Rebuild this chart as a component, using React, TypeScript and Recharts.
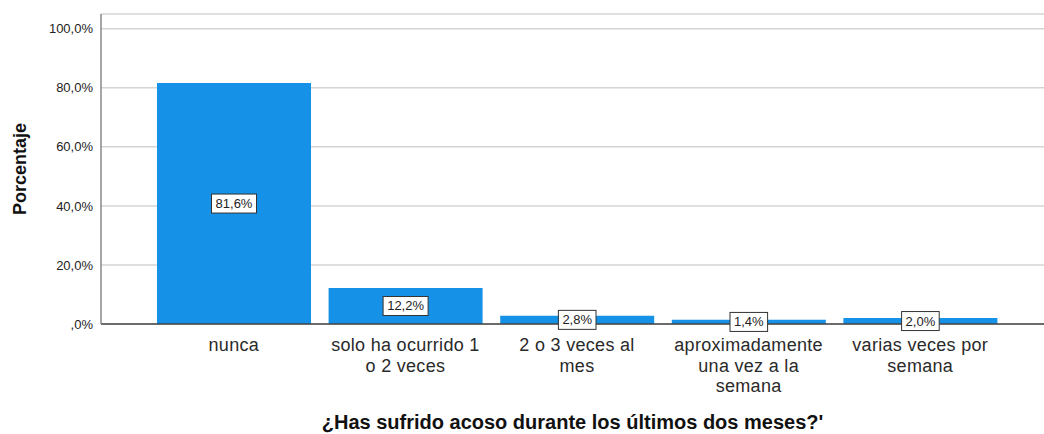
import { Bar, BarChart, CartesianGrid, Label, LabelList, XAxis, YAxis } from "recharts";

const categories = [
  "nunca",
  "solo ha ocurrido 1 o 2 veces",
  "2 o 3 veces al mes",
  "aproximadamente una vez a la semana",
  "varias veces por semana",
];
const tickLines = [
  ["nunca"],
  ["solo ha ocurrido 1", "o 2 veces"],
  ["2 o 3 veces al", "mes"],
  ["aproximadamente", "una vez a la", "semana"],
  ["varias veces por", "semana"],
];
const percentages = [81.6, 12.2, 2.8, 1.4, 2.0];
const yTicks = [0, 20, 40, 60, 80, 100];

const data = categories.map((c, i) => ({ name: c, value: percentages[i] }));

const fmt = (v: number) => (v === 0 ? ",0%" : `${v.toFixed(1).replace(".", ",")}%`);

function CategoryTick(props: any) {
  const { x, y, index } = props;
  const lines = tickLines[index] || [];
  return (
    <g transform={`translate(${x},${y})`}>
      {lines.map((l, i) => (
        <text
          key={i}
          x={0}
          y={19 + i * 20.5}
          textAnchor="middle"
          fontSize={18}
          letterSpacing={0.3}
          fill="#2a2a2a"
          fontFamily="Liberation Sans, Arial, sans-serif"
        >
          {l}
        </text>
      ))}
    </g>
  );
}

function ValueLabel(props: any) {
  const { x, y, width, height, value } = props;
  const text = fmt(Number(value));
  const w = text.length * 7.4 + 8;
  const h = 19;
  const cx = x + width / 2;
  const cy = y + height / 2;
  return (
    <g>
      <rect x={cx - w / 2} y={cy - h / 2} width={w} height={h} fill="#fff" stroke="#333" strokeWidth={1} />
      <text
        x={cx}
        y={cy + 4.5}
        textAnchor="middle"
        fontSize={13}
        fill="#222"
        fontFamily="Liberation Sans, Arial, sans-serif"
      >
        {text}
      </text>
    </g>
  );
}

export default function App() {
  return (
    <div style={{ position: "absolute", left: 0, top: 0, background: "#fff" }}>
      <BarChart
        width={1044}
        height={434}
        data={data}
        margin={{ top: 14, right: 0, bottom: 0, left: 0 }}
        style={{ fontFamily: "Liberation Sans, Arial, sans-serif" }}
      >
        <CartesianGrid vertical={false} stroke="#d4d4d4" strokeWidth={1.5} />
        <XAxis
          dataKey="name"
          interval={0}
          height={110}
          tickLine={false}
          axisLine={{ stroke: "#444", strokeWidth: 1.5 }}
          padding={{ left: 47, right: 38 }}
          tick={<CategoryTick />}
        >
          <Label
            value="¿Has sufrido acoso durante los últimos dos meses?'"
            position="insideBottom"
            offset={5}
            fontSize={20}
            fontWeight="bold"
            fill="#111"
          />
        </XAxis>
        <YAxis
          width={101}
          domain={[0, 105]}
          ticks={yTicks}
          tickFormatter={fmt}
          tickLine={false}
          axisLine={{ stroke: "#888", strokeWidth: 1.5 }}
          tick={{ fontSize: 13, fill: "#222" }}
          tickMargin={2}
        >
          <Label
            value="Porcentaje"
            angle={-90}
            position="insideLeft"
            offset={20}
            style={{ textAnchor: "middle" }}
            fontSize={18}
            fontWeight="bold"
            fill="#111"
          />
        </YAxis>
        <Bar dataKey="value" fill="#1591e7" barSize={154} isAnimationActive={false}>
          <LabelList dataKey="value" content={<ValueLabel />} />
        </Bar>
      </BarChart>
    </div>
  );
}
